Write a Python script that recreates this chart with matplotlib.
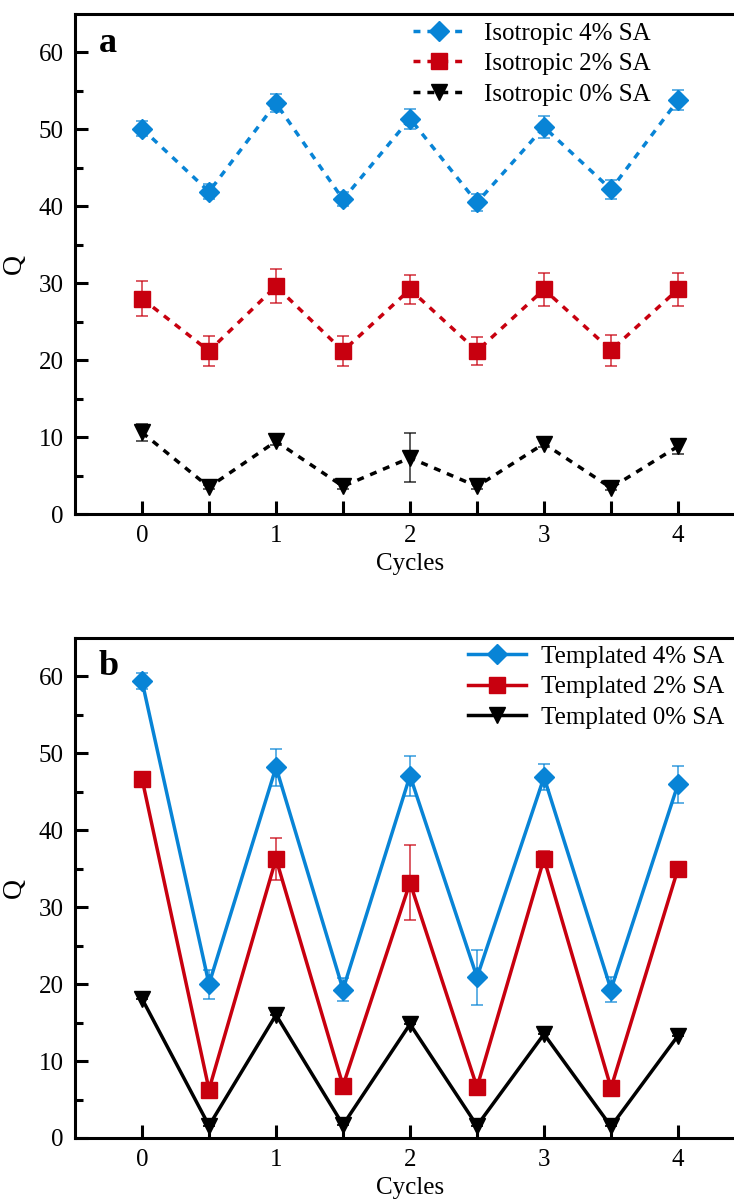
#!/usr/bin/env python3
# coding: utf-8
import matplotlib
matplotlib.use('Agg')
import matplotlib.pyplot as plt

plt.rcParams['font.family'] = ['Liberation Serif', 'DejaVu Serif']
plt.rcParams['font.size'] = 18

C_BLUE = '#0884d6'
C_RED = '#c8000f'
C_BLACK = '#000000'

cycles = [0, 0.5, 1, 1.5, 2, 2.5, 3, 3.5, 4]
xtick_labels = ['0', '1', '2', '3', '4']

# panel a : isotropic
iso_labels = ['Isotropic 4% SA', 'Isotropic 2% SA', 'Isotropic 0% SA']
iso_4 = [50.1, 41.9, 53.4, 40.9, 51.4, 40.5, 50.3, 42.2, 53.8]
iso_4_err = [1.0, 1.0, 1.2, 0.9, 1.3, 1.1, 1.4, 1.25, 1.3]
iso_2 = [28.0, 21.2, 29.6, 21.2, 29.2, 21.2, 29.2, 21.3, 29.2]
iso_2_err = [2.25, 2.0, 2.2, 1.9, 1.9, 1.85, 2.1, 2.0, 2.1]
iso_0 = [10.6, 3.5, 9.45, 3.6, 7.3, 3.6, 9.15, 3.4, 8.8]
iso_0_err = [1.05, 0.3, 0.5, 0.3, 3.2, 0.3, 0.5, 0.3, 0.95]

# panel b : templated
tem_labels = ['Templated 4% SA', 'Templated 2% SA', 'Templated 0% SA']
tem_4 = [59.4, 20.0, 48.2, 19.3, 47.1, 20.9, 46.9, 19.3, 46.0]
tem_4_err = [1.0, 1.9, 2.4, 1.45, 2.6, 3.6, 1.7, 1.6, 2.4]
tem_2 = [46.7, 6.3, 36.3, 6.8, 33.2, 6.6, 36.3, 6.5, 35.0]
tem_2_err = [0, 0, 2.7, 0, 4.9, 0, 1.0, 0, 0]
tem_0 = [18.1, 1.6, 16.0, 1.7, 14.8, 1.6, 13.5, 1.5, 13.3]
tem_0_err = [0, 0, 0, 0, 0, 0, 0, 0, 0]

markers = ['D', 's', 'v']
msizes = [10, 11, 11]
colors = [C_BLUE, C_RED, C_BLACK]


def style_axes(ax, letter):
    ax.set_xlim(-0.5, 4.5)
    ax.set_ylim(0, 65)
    for side in ('top', 'left', 'bottom', 'right'):
        ax.spines[side].set_linewidth(2.2)
    ax.set_xticks(range(5))
    ax.set_xticklabels(xtick_labels)
    ax.set_xticks([0.5, 1.5, 2.5, 3.5], minor=True)
    ax.set_yticks(range(0, 61, 10))
    ax.set_yticks(range(5, 65, 10), minor=True)
    ax.tick_params(axis='both', which='both', direction='in', width=2.2,
                   top=False, right=False)
    ax.tick_params(axis='x', which='both', length=9.5, pad=8)
    ax.tick_params(axis='y', which='major', length=9.5, pad=8)
    ax.tick_params(axis='y', which='minor', length=5.5)
    ax.set_xlabel('Cycles', labelpad=4)
    ax.set_ylabel('Q', labelpad=9, fontsize=20)
    ax.text(0.035, 0.925, letter, transform=ax.transAxes, fontsize=26,
            fontweight='bold', va='baseline')


def draw(ax, series, errs, labels, ls):
    for y, e, lab, c, m, ms in zip(series, errs, labels, colors, markers,
                                   msizes):
        ax.errorbar(cycles, y, yerr=e, fmt='none', ecolor=c, alpha=0.75,
                    elinewidth=1.2, capsize=4.5, capthick=1.2, zorder=3)
        line, = ax.plot(cycles, y, color=c, lw=2.5, marker=m, ms=ms,
                        label=lab, zorder=2)
        if ls == 'dashed':
            line.set_dashes([2.0, 2.0])


fig = plt.figure(figsize=(7.34, 11.99), dpi=100)
ax_a = fig.add_axes([0.1022, 0.5713, 0.9128, 0.4170])
ax_b = fig.add_axes([0.1022, 0.0509, 0.9128, 0.4170])

draw(ax_a, [iso_4, iso_2, iso_0], [iso_4_err, iso_2_err, iso_0_err],
     iso_labels, 'dashed')
style_axes(ax_a, 'a')
ax_a.legend(loc='upper left', bbox_to_anchor=(0.5045, 0.984), frameon=False,
            borderpad=0, borderaxespad=0, handlelength=2.1,
            handletextpad=0.75, labelspacing=0.32)

draw(ax_b, [tem_4, tem_2, tem_0], [tem_4_err, tem_2_err, tem_0_err],
     tem_labels, 'solid')
style_axes(ax_b, 'b')
ax_b.legend(loc='upper left', bbox_to_anchor=(0.5866, 0.985), frameon=False,
            borderpad=0, borderaxespad=0, handlelength=2.3,
            handletextpad=0.6, labelspacing=0.32)

fig.savefig('out.png', dpi=100)
